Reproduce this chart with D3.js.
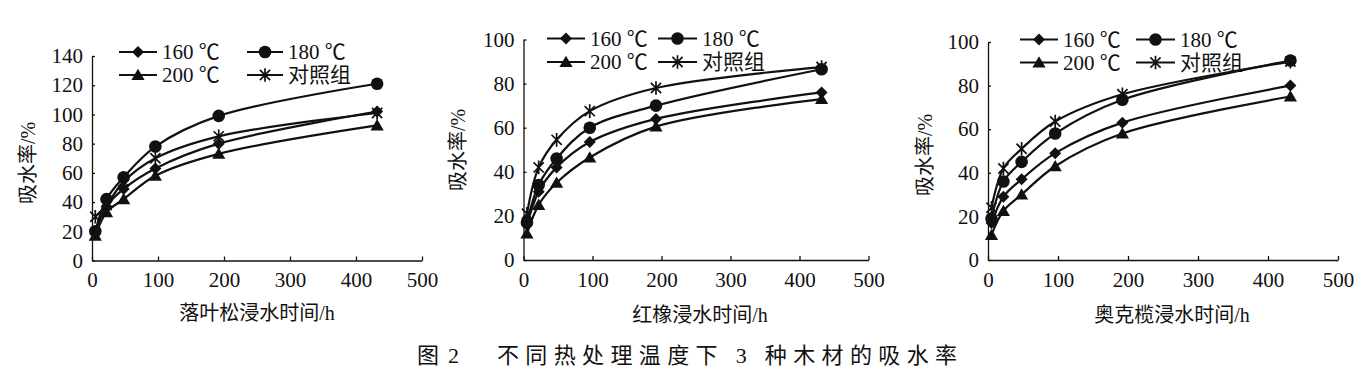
<!DOCTYPE html>
<html><head><meta charset="utf-8">
<script src="https://cdn.jsdelivr.net/npm/d3@7"></script>
<style>
body{margin:0;background:#fff}
svg{display:block}
text{font-family:"Liberation Serif","Noto Sans CJK SC",serif;fill:#111}
</style>
</head><body>
<svg id="c" width="1367" height="385"></svg>
<script>
// ---------- data ----------
const hours = [5, 22, 48, 96, 192, 432];
const seriesNames = ["160 ℃", "180 ℃", "200 ℃", "对照组"];
const xTicks = [0, 100, 200, 300, 400, 500];
const yTicksLarch = [0, 20, 40, 60, 80, 100, 120, 140];
const yTicksOak = [0, 20, 40, 60, 80, 100];
const xLabels = ["落叶松浸水时间/h", "红橡浸水时间/h", "奥克榄浸水时间/h"];
const yLabel = "吸水率/%";
const titleA = "图 2";
const titleB = "不同热处理温度下 3 种木材的吸水率";

// 落叶松
const larch160 = [20, 37, 49, 63, 80, 102];
const larch180 = [20, 42, 57, 78, 99, 121];
const larch200 = [17, 33, 42, 58, 73, 92.5];
const larchCtl = [30, 38, 54, 70, 85, 101];
// 红橡
const redoak160 = [16, 31, 42, 53.5, 64, 76];
const redoak180 = [17, 34, 46, 60, 70, 86.5];
const redoak200 = [12, 25, 35, 46.5, 60.5, 73];
const redoakCtl = [21, 42, 54.5, 67.5, 78, 87.5];
// 奥克榄
const okoume160 = [17, 29, 37, 49, 63, 80];
const okoume180 = [19, 36, 45, 58, 73.5, 91.5];
const okoume200 = [11.5, 22.5, 30, 43, 58, 75];
const okoumeCtl = [24, 42, 51, 63.5, 76, 91];

// ---------- layout ----------
const panels = [
  {series:[larch160, larch180, larch200, larchCtl], yTicks:yTicksLarch, ymax:140,
   x0:92, x1:422, y0:260.5, y1:56, legCols:[[119,157],[247,283]], legRows:[52,75],
   yLab:[28,163], xLab:[257,313]},
  {series:[redoak160, redoak180, redoak200, redoakCtl], yTicks:yTicksOak, ymax:100,
   x0:523.5, x1:868.5, y0:260, y1:39.5, legCols:[[547,585],[658,697]], legRows:[38.5,62],
   yLab:[458,150], xLab:[700,315]},
  {series:[okoume160, okoume180, okoume200, okoumeCtl], yTicks:yTicksOak, ymax:100,
   x0:988, x1:1338, y0:260, y1:42, legCols:[[1020,1058],[1136,1175]], legRows:[39.5,62.5],
   yLab:[925,155], xLab:[1172,315]}
];

const ink = "#111";
const svg = d3.select("#c");

// marker shapes
const shapes = [
  {draw(c){const r=6;c.moveTo(0,-r);c.lineTo(r,0);c.lineTo(0,r);c.lineTo(-r,0);c.closePath();}},
  {draw(c){c.moveTo(6.3,0);c.arc(0,0,6.3,0,2*Math.PI);}},
  {draw(c){c.moveTo(0,-6.3);c.lineTo(6.6,5);c.lineTo(-6.6,5);c.closePath();}},
  {draw(c){const r=6.8,a=r*0.75;c.moveTo(0,-r);c.lineTo(0,r);c.moveTo(-a,-a);c.lineTo(a,a);c.moveTo(-a,a);c.lineTo(a,-a);}}
];
const isStroke = [false,false,false,true];

function marker(g, k, x, y){
  const p = g.append("path").attr("d", d3.symbol().type(shapes[k])())
    .attr("transform", `translate(${x},${y})`);
  if (isStroke[k]) p.attr("fill","none").attr("stroke",ink).attr("stroke-width",1.7);
  else p.attr("fill",ink).attr("stroke","none");
}

panels.forEach((P, pi) => {
  const x = d3.scaleLinear().domain([0,500]).range([P.x0, P.x1]);
  const y = d3.scaleLinear().domain([0,P.ymax]).range([P.y0, P.y1]);
  const g = svg.append("g");

  // axes
  const ax = g.append("g").attr("transform",`translate(0,${P.y0})`)
    .call(d3.axisBottom(x).tickValues(xTicks).tickSizeInner(-4).tickSizeOuter(0).tickPadding(12));
  const ay = g.append("g").attr("transform",`translate(${P.x0},0)`)
    .call(d3.axisLeft(y).tickValues(P.yTicks).tickSizeInner(-3).tickSizeOuter(0).tickPadding(9));
  [ax, ay].forEach(a => {
    a.selectAll("path,line").attr("stroke", ink).attr("stroke-width",1.3);
    a.selectAll("text").attr("font-size", 21).attr("fill", ink)
      .style("font-family", '"Liberation Serif",serif');
  });

  // lines
  const line = d3.line().x((d,i)=>x(hours[i])).y(d=>y(d)).curve(d3.curveCatmullRom.alpha(0.5));
  P.series.forEach((s, k) => {
    g.append("path").datum(s).attr("d", line).attr("fill","none")
      .attr("stroke", ink).attr("stroke-width", 2.2);
  });
  P.series.forEach((s, k) => {
    s.forEach((v, i) => marker(g, k, x(hours[i]), y(v)));
  });

  // legend
  seriesNames.forEach((name, k) => {
    const col = P.legCols[k % 2], ry = P.legRows[Math.floor(k / 2)];
    g.append("line").attr("x1", col[0]).attr("x2", col[1]).attr("y1", ry).attr("y2", ry)
      .attr("stroke", ink).attr("stroke-width", 2.2);
    marker(g, k, (col[0]+col[1])/2, ry);
    g.append("text").attr("x", col[1] + 5).attr("y", ry).attr("dy","0.35em")
      .attr("font-size", 21).text(name);
  });

  // axis titles
  g.append("text").attr("transform", `translate(${P.yLab[0]},${P.yLab[1]}) rotate(-90)`)
    .attr("text-anchor","middle").attr("dy","0.35em").attr("font-size",20).text(yLabel);
  g.append("text").attr("x", P.xLab[0]).attr("y", P.xLab[1]).attr("text-anchor","middle")
    .attr("dy","0.35em").attr("font-size",20).text(xLabels[pi]);
});

// figure caption
svg.append("text").attr("x", 417).attr("y", 355).attr("dy","0.35em")
  .attr("font-size", 22).attr("textLength", 42).attr("lengthAdjust","spacing").text(titleA);
svg.append("text").attr("x", 497).attr("y", 355).attr("dy","0.35em")
  .attr("font-size", 22).attr("textLength", 460).attr("lengthAdjust","spacing").text(titleB);
</script>
</body></html>
